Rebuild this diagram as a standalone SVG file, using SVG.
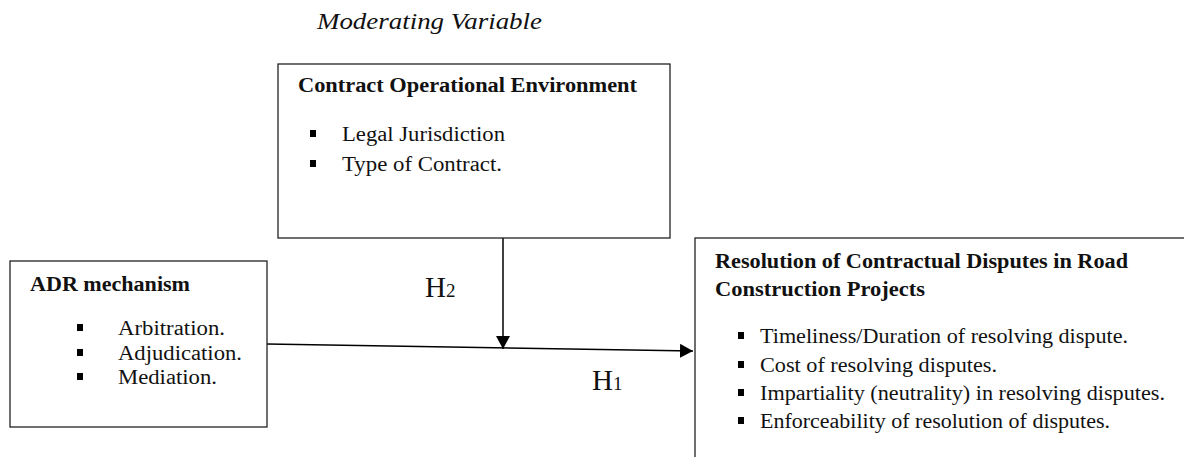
<svg xmlns="http://www.w3.org/2000/svg" width="1184" height="457" viewBox="0 0 1184 457">
<style>
text{font-family:"Liberation Serif","Times New Roman",serif;fill:#111;}
.t{font-weight:bold;font-size:20px;}
.b{font-size:20px;}
.h{font-size:29px;}
.s{font-size:19px;}
.box{fill:#fff;stroke:#222;stroke-width:1.3;}
.ln{stroke:#000;stroke-width:1.5;fill:none;}
.sq{fill:#000;}
</style>
<defs>
<marker id="ah" markerWidth="13" markerHeight="14" refX="13" refY="7" orient="auto" markerUnits="userSpaceOnUse">
<path d="M0,0 L13,7 L0,14 Z" fill="#000"/>
</marker>
</defs>
<rect width="1184" height="457" fill="#fff"/>
<text x="317" y="29" style="font-style:italic;font-size:24px" textLength="225" lengthAdjust="spacingAndGlyphs">Moderating Variable</text>
<g id="connectors">
<line class="ln" x1="267" y1="344" x2="693" y2="351" marker-end="url(#ah)"/>
<line class="ln" x1="503" y1="238" x2="503" y2="349" marker-end="url(#ah)"/>
<text class="h" x="425" y="297">H<tspan class="s">2</tspan></text>
<text class="h" x="592" y="390">H<tspan class="s">1</tspan></text>
</g>
<g id="moderator">
<rect class="box" x="278" y="64" width="392" height="174"/>
<text class="t" x="298" y="92" textLength="339" lengthAdjust="spacingAndGlyphs">Contract Operational Environment</text>
<rect class="sq" x="310" y="130" width="6" height="7"/>
<text class="b" x="342" y="141" textLength="163" lengthAdjust="spacingAndGlyphs">Legal Jurisdiction</text>
<rect class="sq" x="310" y="160" width="6" height="7"/>
<text class="b" x="342" y="171" textLength="160" lengthAdjust="spacingAndGlyphs">Type of Contract.</text>
</g>
<g id="adr">
<rect class="box" x="10" y="261" width="257" height="166"/>
<text class="t" x="30" y="291" textLength="160" lengthAdjust="spacingAndGlyphs">ADR mechanism</text>
<rect class="sq" x="77" y="324" width="6" height="7"/>
<text class="b" x="118" y="335" textLength="107" lengthAdjust="spacingAndGlyphs">Arbitration.</text>
<rect class="sq" x="77" y="349" width="6" height="7"/>
<text class="b" x="118" y="360" textLength="124" lengthAdjust="spacingAndGlyphs">Adjudication.</text>
<rect class="sq" x="77" y="373" width="6" height="7"/>
<text class="b" x="118" y="384" textLength="99" lengthAdjust="spacingAndGlyphs">Mediation.</text>
</g>
<g id="resolution">
<rect class="box" x="695" y="238" width="495" height="230"/>
<text class="t" x="715" y="268" textLength="413" lengthAdjust="spacingAndGlyphs">Resolution of Contractual Disputes in Road</text>
<text class="t" x="715" y="296" textLength="210" lengthAdjust="spacingAndGlyphs">Construction Projects</text>
<rect class="sq" x="738" y="332" width="6" height="7"/>
<text class="b" x="760" y="343" textLength="368" lengthAdjust="spacingAndGlyphs">Timeliness/Duration of resolving dispute.</text>
<rect class="sq" x="738" y="361" width="6" height="7"/>
<text class="b" x="760" y="372" textLength="237" lengthAdjust="spacingAndGlyphs">Cost of resolving disputes.</text>
<rect class="sq" x="738" y="389" width="6" height="7"/>
<text class="b" x="760" y="400" textLength="405" lengthAdjust="spacingAndGlyphs">Impartiality (neutrality) in resolving disputes.</text>
<rect class="sq" x="738" y="417" width="6" height="7"/>
<text class="b" x="760" y="428" textLength="350" lengthAdjust="spacingAndGlyphs">Enforceability of resolution of disputes.</text>
</g>
</svg>
